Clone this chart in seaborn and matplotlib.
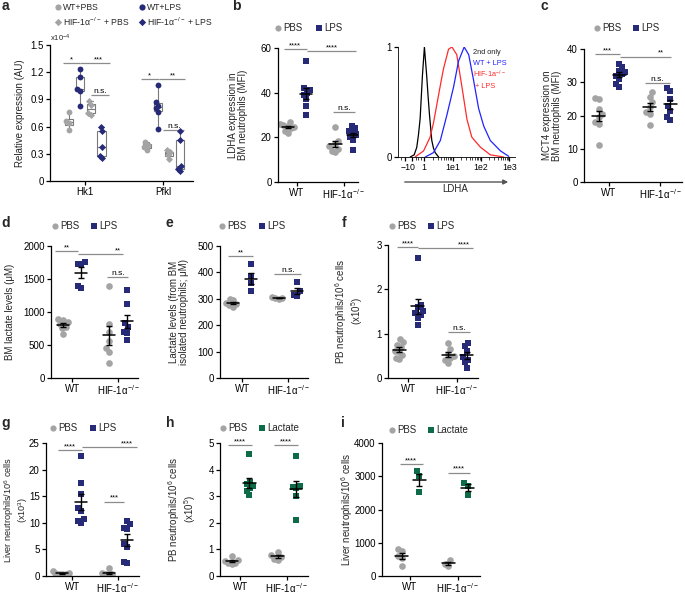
import numpy as np
import pandas as pd
import matplotlib
matplotlib.use("Agg")
import matplotlib.pyplot as plt
import seaborn as sns
import warnings
warnings.filterwarnings("ignore")

sns.set_style("ticks")
plt.rcParams['font.family'] = ['Liberation Sans', 'DejaVu Sans']
plt.rcParams['mathtext.fontset'] = 'custom'
plt.rcParams['mathtext.rm'] = 'Liberation Sans'
plt.rcParams['mathtext.default'] = 'regular'

# ---------------- data ----------------
genotypes = ["WT", "HIF-1α$^{-/-}$"]

# panel a (x10^-4)
a_genes = ["Hk1", "Pfkl"]
a_groups = ["WT+PBS", "WT+LPS", "HIF-1α$^{-/-}$ + PBS", "HIF-1α$^{-/-}$ + LPS"]
a_hk1_wt_pbs = [0.76, 0.66, 0.64, 0.56]
a_hk1_wt_lps = [1.24, 1.15, 1.01, 0.99, 0.83]
a_hk1_hif_pbs = [0.88, 0.84, 0.75, 0.73]
a_hk1_hif_lps = [0.60, 0.55, 0.38, 0.28, 0.25]
a_pfkl_wt_pbs = [0.43, 0.40, 0.37, 0.34]
a_pfkl_wt_lps = [1.06, 0.87, 0.83, 0.80, 0.76, 0.57]
a_pfkl_hif_pbs = [0.34, 0.32, 0.29, 0.24]
a_pfkl_hif_lps = [0.55, 0.45, 0.16, 0.13, 0.11]

# panel b
b_wt_pbs = [27, 26, 25.5, 25, 24.5, 24, 23, 22]
b_wt_lps = [54, 42, 41, 40, 39, 37, 34, 30]
b_hif_pbs = [24.5, 18.5, 17, 16, 15, 14, 13.5]
b_hif_lps = [25, 24, 23, 22, 21.5, 21, 20, 19, 14.5]

# histogram (x in decades, normalized counts)
h_black_x = [-0.49, -0.35, -0.26, -0.2, -0.14, -0.06, 0.01, 0.09, 0.14, 0.19, 0.27, 0.33, 0.39, 0.51]
h_black_y = [0.0, 0.02, 0.087, 0.2, 0.35, 0.74, 1.0, 0.74, 0.55, 0.38, 0.15, 0.08, 0.04, 0.0]
h_red_x = [-0.32, -0.02, 0.21, 0.33, 0.45, 0.57, 0.68, 0.86, 0.98, 1.15, 1.33, 1.51, 1.68, 1.98, 2.33, 2.8]
h_red_y = [0.0, 0.055, 0.18, 0.31, 0.48, 0.65, 0.80, 0.98, 1.0, 0.93, 0.64, 0.34, 0.18, 0.09, 0.02, 0.0]
h_blue_x = [0.04, 0.33, 0.57, 0.8, 1.04, 1.21, 1.41, 1.57, 1.74, 1.92, 2.1, 2.33, 2.69, 2.98]
h_blue_y = [0.0, 0.04, 0.15, 0.38, 0.64, 0.87, 1.0, 0.93, 0.70, 0.44, 0.28, 0.15, 0.055, 0.006]
h_tick_pos = [-0.66, -0.42, 0, 1, 2, 3]
h_tick_labels = ["\u22121", "0", "1", "1e1", "1e2", "1e3"]

# panel c
c_wt_pbs = [25.3, 25, 22, 20.5, 19.5, 18, 17.5, 11]
c_wt_lps = [35.5, 34.5, 33.5, 33, 32.5, 32, 31, 29.5, 28.5]
c_hif_pbs = [27, 25.5, 24, 22.5, 21, 20.5, 17]
c_hif_lps = [28.2, 27.5, 25, 23, 21.5, 19.5, 18.5]

# panel d
d_wt_pbs = [900, 880, 850, 820, 780, 760, 660]
d_wt_lps = [1760, 1730, 1720, 1400, 1370]
d_hif_pbs = [1390, 820, 700, 560, 450, 400, 230]
d_hif_lps = [1330, 1120, 830, 780, 700, 680, 570]

# panel e
e_wt_pbs = [300, 295, 285, 280, 275, 270]
e_wt_lps = [430, 385, 360, 330]
e_hif_pbs = [305, 303, 302, 300]
e_hif_lps = [365, 330, 315, 310]

# panel f
f_wt_pbs = [0.87, 0.82, 0.75, 0.70, 0.62, 0.58, 0.52, 0.45, 0.42]
f_wt_lps = [2.7, 1.65, 1.6, 1.52, 1.47, 1.42, 1.35, 1.2]
f_hif_pbs = [0.80, 0.65, 0.55, 0.50, 0.45, 0.40, 0.33]
f_hif_lps = [0.80, 0.72, 0.60, 0.48, 0.40, 0.35, 0.22]

# panel g
g_wt_pbs = [0.9, 0.6, 0.5, 0.4, 0.3, 0.3]
g_wt_lps = [22.5, 17.5, 15.5, 12.8, 12.2, 10.8, 10.4, 10.0]
g_hif_pbs = [1.5, 0.6, 0.4, 0.3, 0.2]
g_hif_lps = [10.4, 9.7, 9.0, 8.8, 6.0, 5.5, 2.6, 2.4]

# panel h
h_wt_pbs = [0.75, 0.6, 0.55, 0.5, 0.48, 0.45]
h_wt_lac = [4.6, 3.55, 3.45, 3.4, 3.3, 3.2, 3.05]
h_hif_pbs = [0.9, 0.8, 0.72, 0.65, 0.6]
h_hif_lac = [4.5, 3.4, 3.35, 3.3, 3.0, 2.1]

# panel i
i_wt_pbs = [820, 760, 600, 550, 300]
i_wt_lac = [3150, 3000, 2520]
i_hif_pbs = [470, 370, 300]
i_hif_lac = [2800, 2700, 2450]

GRAY = "#a4a4a4"
NAVY = "#272b77"
GREEN = "#0e6b47"
SIGC = "#8c8c8c"

W, H = 685, 594
fig = plt.figure(figsize=(W / 100, H / 100), dpi=100)

swarm_registry = []  # (collection, centers, factor)


def add_ax(l, t, r, b):
    return fig.add_axes([l / W, 1 - b / H, (r - l) / W, (b - t) / H])


def style(ax):
    sns.despine(ax=ax)
    for s in ("left", "bottom"):
        ax.spines[s].set_linewidth(0.9)
        ax.spines[s].set_color("black")
    ax.tick_params(direction="out", length=3, width=0.9, labelsize=7, pad=1.5, colors="black")
    ax.tick_params(axis="x", pad=1)


def add_sig(ax, sigs):
    for x1, x2, y, txt, xt in sigs:
        ax.plot([x1, x2], [y, y], color=SIGC, lw=0.9, solid_capstyle="butt", clip_on=False)
        fs = 6 if txt == "n.s." else 5.5
        ax.text(xt, y, txt, ha="center", va="bottom", fontsize=fs, color="black")


def swarm(ax, df, centers, factor, **kw):
    n0 = len(ax.collections)
    sns.swarmplot(data=df, x="x", y="y", native_scale=True, orient="v", ax=ax, **kw)
    for coll in ax.collections[n0:]:
        swarm_registry.append((coll, np.asarray(centers, float), factor))


def scatter_panel(ax, sets, xlim, ylim, yticks, ylabel, sigs, labx, labfs=7):
    for xs, vals_list, color, marker in sets:
        rows = []
        for x, vals in zip(xs, vals_list):
            for v in vals:
                rows.append({"x": x, "y": v})
        df = pd.DataFrame(rows)
        swarm(ax, df, xs, 0.5, color=color, marker=marker, size=4.8, linewidth=0, zorder=2)
        for x, vals in zip(xs, vals_list):
            v = np.asarray(vals, float)
            m = v.mean()
            se = v.std(ddof=1) / np.sqrt(len(v))
            ax.errorbar([x], [m], yerr=[se], fmt="none", ecolor="black", elinewidth=1.0,
                        capsize=2.5, capthick=1.0, zorder=4)
            ax.plot([x - 0.13, x + 0.13], [m, m], color="black", lw=1.1, zorder=4)
    ax.set_xlim(*xlim)
    ax.set_ylim(*ylim)
    ax.set_yticks(yticks)
    ax.set_xticks([0, 1])
    ax.set_xticklabels(genotypes)
    ax.set_xlabel("")
    ax.set_ylabel(ylabel, fontsize=labfs, linespacing=1.0)
    ax.yaxis.set_label_coords(labx, 0.5)
    style(ax)
    add_sig(ax, sigs)


# ---------------- panel a ----------------
ax = add_ax(50, 45, 193, 181)
off = [-0.21, -0.07, 0.07, 0.21]
a_vals = [[a_hk1_wt_pbs, a_hk1_wt_lps, a_hk1_hif_pbs, a_hk1_hif_lps],
          [a_pfkl_wt_pbs, a_pfkl_wt_lps, a_pfkl_hif_pbs, a_pfkl_hif_lps]]
rows = []
for gi, gene in enumerate(a_genes):
    for k, grp in enumerate(a_groups):
        for v in a_vals[gi][k]:
            rows.append({"x": gi + off[k], "y": v, "group": grp})
dfa = pd.DataFrame(rows)
sns.boxplot(data=dfa, x="x", y="y", native_scale=True, orient="v", color="white",
            linecolor="#7a7a7a", linewidth=0.8, whis=(0, 100), showfliers=False,
            width=0.75, ax=ax, zorder=1)
a_colors = [GRAY, NAVY, GRAY, NAVY]
a_markers = ["o", "o", "D", "D"]
for k, grp in enumerate(a_groups):
    sub = dfa[dfa["group"] == grp]
    swarm(ax, sub, [off[k], 1 + off[k]], 0.45, color=a_colors[k], marker=a_markers[k],
          size=4.2 if a_markers[k] == "o" else 3.6, linewidth=0, zorder=3)
ax.set_xlim(-0.45, 1.38)
ax.set_ylim(0, 1.5)
ax.set_yticks([0, 0.3, 0.6, 0.9, 1.2, 1.5])
ax.set_yticklabels(["0", "0.3", "0.6", "0.9", "1.2", "1.5"])
ax.set_xticks([0, 1])
ax.set_xticklabels(a_genes)
ax.set_xlabel("")
ax.set_ylabel("Relative expression (AU)", fontsize=7)
ax.yaxis.set_label_coords((25 - 50) / 143, 0.5)
style(ax)
add_sig(ax, [(-0.28, -0.06, 1.30, "*", -0.18), (-0.06, 0.32, 1.30, "***", 0.17),
             (0.08, 0.31, 0.95, "n.s.", 0.195), (0.72, 0.94, 1.125, "*", 0.82),
             (0.94, 1.28, 1.125, "**", 1.12), (1.0, 1.27, 0.56, "n.s.", 1.135)])
ax.text(0.0, 1.01, "x10$^{-4}$", transform=ax.transAxes, fontsize=5.5, ha="left", va="bottom")

# ---------------- panel b ----------------
ax = add_ax(278, 48, 358, 182)
scatter_panel(ax, [([-0.18, 0.82], [b_wt_pbs, b_hif_pbs], GRAY, "o"),
                   ([0.2, 1.2], [b_wt_lps, b_hif_lps], NAVY, "s")],
              (-0.40, 1.30), (0, 60), [0, 20, 40, 60],
              "LDHA expression in\nBM neutrophils (MFI)",
              [(-0.28, 0.21, 59.6, "****", -0.04), (0.21, 1.26, 58.7, "****", 0.75),
               (0.77, 1.23, 31.3, "n.s.", 1.0)], (248 - 278) / 80)

# ---------------- histogram ----------------
ax = add_ax(398, 47, 515, 157)
sns.lineplot(x=h_black_x, y=h_black_y, color="black", lw=0.9, sort=False, ax=ax)
sns.lineplot(x=h_red_x, y=h_red_y, color="#ff2a2a", lw=0.9, sort=False, ax=ax)
sns.lineplot(x=h_blue_x, y=h_blue_y, color="#2222ff", lw=0.9, sort=False, ax=ax)
ax.set_xlim(-0.92, 3.2)
ax.set_ylim(0, 1)
ax.set_yticks([0, 1])
ax.set_yticklabels(["0", "1"])
ax.set_xticks(h_tick_pos)
ax.set_xticklabels(h_tick_labels)
minor = [np.log10(m) + k for k in range(3) for m in range(2, 10)] + [-0.8, -0.3, -0.2, -0.1]
ax.set_xticks(minor, minor=True)
style(ax)
ax.tick_params(axis="x", labelsize=6.3)
ax.tick_params(which="minor", length=2, width=0.6)
for s in ("left", "bottom"):
    ax.spines[s].set_linewidth(0.6)
ax.text(0.64, 0.94, "2nd only", transform=ax.transAxes, fontsize=5.3, color="#222222")
ax.text(0.64, 0.84, "WT + LPS", transform=ax.transAxes, fontsize=5.3, color="#2222ff")
ax.text(0.64, 0.72, "HIF-1a$^{-/-}$", transform=ax.transAxes, fontsize=5.3, color="#ff2a2a")
ax.text(0.66, 0.63, "+ LPS", transform=ax.transAxes, fontsize=5.3, color="#ff2a2a")

# ---------------- panel c ----------------
ax = add_ax(584, 49, 682, 182)
scatter_panel(ax, [([-0.2, 0.8], [c_wt_pbs, c_hif_pbs], GRAY, "o"),
                   ([0.2, 1.2], [c_wt_lps, c_hif_lps], NAVY, "s")],
              (-0.49, 1.43), (0, 40), [0, 10, 20, 30, 40],
              "MCT4 expression on\nBM neutrophils (MFI)",
              [(-0.27, 0.22, 38.5, "***", -0.03), (0.22, 1.22, 37.7, "**", 1.02),
               (0.71, 1.2, 29.9, "n.s.", 0.95)], (562 - 584) / 98)

# ---------------- panel d ----------------
ax = add_ax(51, 246, 138, 378)
scatter_panel(ax, [([-0.2, 0.8], [d_wt_pbs, d_hif_pbs], GRAY, "o"),
                   ([0.2, 1.2], [d_wt_lps, d_hif_lps], NAVY, "s")],
              (-0.46, 1.43), (0, 2000), [0, 500, 1000, 1500, 2000],
              "BM lactate levels (\u03bcM)",
              [(-0.37, 0.13, 1924, "**", -0.12), (0.13, 1.11, 1879, "**", 1.0),
               (0.76, 1.22, 1535, "n.s.", 0.99)], (15 - 51) / 87)

# ---------------- panel e ----------------
ax = add_ax(220, 246, 308, 378)
scatter_panel(ax, [([-0.2, 0.8], [e_wt_pbs, e_hif_pbs], GRAY, "o"),
                   ([0.2, 1.2], [e_wt_lps, e_hif_lps], NAVY, "s")],
              (-0.48, 1.43), (0, 500), [0, 100, 200, 300, 400, 500],
              "Lactate levels (from BM\nisolated neutrophils; \u03bcM)",
              [(-0.30, 0.24, 462, "**", -0.03), (0.70, 1.28, 394, "n.s.", 0.99)],
              (189 - 220) / 88)

# ---------------- panel f ----------------
ax = add_ax(388, 245, 478, 378)
scatter_panel(ax, [([-0.18, 0.82], [f_wt_pbs, f_hif_pbs], GRAY, "o"),
                   ([0.2, 1.2], [f_wt_lps, f_hif_lps], NAVY, "s")],
              (-0.41, 1.43), (0, 3), [0, 1, 2, 3],
              "PB neutrophils/10$^6$ cells\n(x10$^5$)",
              [(-0.22, 0.2, 2.95, "****", -0.01), (0.2, 1.33, 2.93, "****", 1.15),
               (0.82, 1.27, 1.03, "n.s.", 1.05)], (365 - 388) / 90)

# ---------------- panel g ----------------
ax = add_ax(46, 443, 139, 576)
scatter_panel(ax, [([-0.22, 0.8], [g_wt_pbs, g_hif_pbs], GRAY, "o"),
                   ([0.2, 1.2], [g_wt_lps, g_hif_lps], NAVY, "s")],
              (-0.57, 1.46), (0, 25), [0, 5, 10, 15, 20, 25],
              "Liver neutrophils/10$^6$ cells\n(x10$^3$)",
              [(-0.30, 0.22, 23.7, "****", -0.04), (0.22, 1.41, 24.2, "****", 1.2),
               (0.70, 1.13, 14.0, "***", 0.92)], (30 - 46) / 93, labfs=6.6)

# ---------------- panel h ----------------
ax = add_ax(220, 443, 308, 576)
scatter_panel(ax, [([-0.18, 0.8], [h_wt_pbs, h_hif_pbs], GRAY, "o"),
                   ([0.2, 1.2], [h_wt_lac, h_hif_lac], GREEN, "s")],
              (-0.43, 1.45), (0, 5), [0, 1, 2, 3, 4, 5],
              "PB neutrophils/10$^6$ cells\n(x10$^5$)",
              [(-0.26, 0.26, 4.92, "****", 0.0), (0.72, 1.23, 4.92, "****", 0.97)],
              (198 - 220) / 88)

# ---------------- panel i ----------------
ax = add_ax(382, 443, 480, 576)
scatter_panel(ax, [([-0.17, 0.8], [i_wt_pbs, i_hif_pbs], GRAY, "o"),
                   ([0.2, 1.2], [i_wt_lac, i_hif_lac], GREEN, "s")],
              (-0.58, 1.46), (0, 4000), [0, 1000, 2000, 3000, 4000],
              "Liver neutrophils/10$^6$ cells",
              [(-0.21, 0.27, 3369, "****", 0.03), (0.79, 1.25, 3108, "****", 1.02)],
              (355 - 382) / 98)

# ---------------- overlay: letters, legends, arrow ----------------
ov = fig.add_axes([0, 0, 1, 1], zorder=10)
ov.set_xlim(0, W)
ov.set_ylim(H, 0)
ov.axis("off")

for x, y, t in [(2, 10, "a"), (232, 10, "b"), (541, 10, "c"), (1, 227, "d"), (166, 227, "e"),
                (342, 227, "f"), (1, 427, "g"), (166, 427, "h"), (341, 427, "i")]:
    ov.text(x, y, t, fontsize=10, fontweight="bold", va="baseline", ha="left")


def leg(x, y, marker, color, label, fs=7):
    ov.scatter([x], [y], marker=marker, s=20 if marker != "D" else 14, color=color, linewidths=0)
    ov.text(x + 5, y, label, fontsize=fs, va="center", ha="left")


leg(58, 7, "o", GRAY, "WT+PBS", 6.2)
leg(58, 22, "D", GRAY, "HIF-1α$^{-/-}$ + PBS", 6.2)
leg(142, 7, "o", NAVY, "WT+LPS", 6.2)
leg(142, 22, "D", NAVY, "HIF-1α$^{-/-}$ + LPS", 6.2)

for cx, sx, y, lab2, col2 in [(278, 319, 28, "LPS", NAVY), (597, 636, 28, "LPS", NAVY),
                              (55, 94, 226, "LPS", NAVY), (222, 262, 226, "LPS", NAVY),
                              (392, 431, 226, "LPS", NAVY), (53, 93, 428, "LPS", NAVY),
                              (223, 262, 428, "Lactate", GREEN), (392, 431, 430, "Lactate", GREEN)]:
    leg(cx, y, "o", GRAY, "PBS")
    leg(sx, y, "s", col2, lab2)

ov.annotate("", xy=(511, 182), xytext=(402, 182),
            arrowprops=dict(arrowstyle="-|>", color="#555555", lw=1.0, mutation_scale=7))
ov.text(455, 189, "LDHA", fontsize=7, ha="center", va="center")

# compute swarms once, then compact them toward their group centres
fig.canvas.draw()
for coll, centers, factor in swarm_registry:
    xy = np.asarray(coll.get_offsets(), float)
    if xy.size == 0:
        continue
    if "draw" in coll.__dict__:
        del coll.draw
    new = xy.copy()
    for j in range(len(xy)):
        c = centers[np.argmin(np.abs(centers - xy[j, 0]))]
        new[j, 0] = c + (xy[j, 0] - c) * factor
    coll.set_offsets(new)

fig.savefig("out.png", dpi=100)
